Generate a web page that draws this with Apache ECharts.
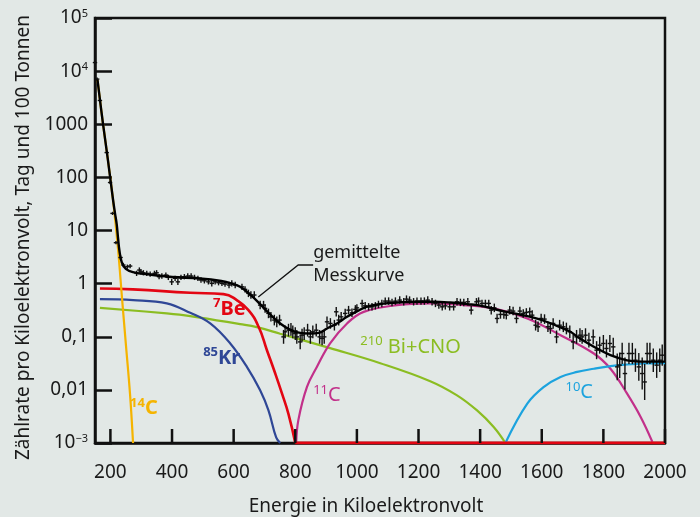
<!DOCTYPE html>
<html>
<head>
<meta charset="utf-8">
<script src="https://cdn.jsdelivr.net/npm/echarts@6/dist/echarts.min.js"></script>
<style>
  html, body { margin: 0; padding: 0; background: #e2e8e6; }
  #chart { width: 700px; height: 517px; }
</style>
</head>
<body>
<div id="chart"></div>
<script>
// x ticks (keV) and y tick texts (by decade, 10^-3 .. 10^5)
const xTicks = [200, 400, 600, 800, 1000, 1200, 1400, 1600, 1800, 2000];
const yTickText = ['10{s|−3}', '0,01', '0,1', '1', '10', '100', '1000', '10{s|4}', '10{s|5}'];

// fitted curve "gemittelte Messkurve"
const fitCurve = [[158,6890],[176,1016],[192,212],[208,40],[215,21],[220.5,13],[225,7],[229,4.3],[237,2.5],[250,1.9],
  [273,1.65],[330,1.47],[400,1.33],[490,1.25],[560,1.12],[594,1.0],[621,0.87],[654,0.62],[686,0.41],[719,0.26],
  [751,0.178],[784,0.135],[816,0.118],[848,0.115],[876,0.118],[903,0.143],[935,0.178],[968,0.237],[1000,0.30],
  [1033,0.37],[1086,0.42],[1141,0.445],[1195,0.455],[1248,0.455],[1303,0.44],[1360,0.41],[1400,0.385],[1477,0.30],
  [1531,0.26],[1585,0.22],[1639,0.17],[1693,0.124],[1715,0.10],[1769,0.065],[1823,0.045],[1877,0.036],[1931,0.034],[2000,0.034]];

// spectral components
const c14 = [[158,6890],[176,1016],[192,212],[208.5,37.6],[224.7,4.5],[237.7,0.535],[250.7,0.0665],[263.7,0.0083],[273.5,0.001]];
const be7 = [[166,0.81],[273,0.78],[459,0.672],[567,0.635],[610,0.49],[648,0.317],[681,0.154],[708,0.0558],[735,0.0203],
  [757,0.0085],[778,0.0035],[800,0.001],[2000,0.001]];
const kr85 = [[166,0.51],[274,0.49],[383,0.425],[459,0.282],[524,0.178],[589,0.0748],[643,0.0271],[686,0.0098],
  [713,0.0041],[738,0.00127],[751,0.001]];
const bi210cno = [[166,0.35],[383,0.275],[459,0.245],[621,0.173],[675,0.152],[751,0.114],[913,0.061],[1076,0.0318],
  [1238,0.0146],[1325,0.0079],[1390,0.0041],[1444,0.002],[1482,0.001]];
const c11 = [[803,0.001],[810,0.0027],[838,0.0114],[870,0.027],[913,0.075],[968,0.178],[1022,0.294],[1130,0.394],
  [1238,0.425],[1346,0.394],[1444,0.341],[1553,0.221],[1661,0.107],[1769,0.0484],[1823,0.025],[1877,0.0085],
  [1921,0.0031],[1959,0.00105]];
const c10 = [[1482,0.001],[1553,0.0055],[1607,0.0114],[1661,0.0175],[1715,0.0218],[1769,0.025],[1823,0.028],
  [1877,0.030],[1931,0.0314],[2000,0.032]];

// measured points: energy, rate, error (half width in decades)
const ptE = [150,157,166,188,199,207,218,233,242,255,264,285,294,299,307,318,329,343,350,358,367,380,388,399,410,419,
  429,440,451,462,473,484,494,505,518,529,540,551,562,572,585,594,605,627,637,648,656,667,686,697,702,713,721,732,740,
  749,762,767,778,786,792,800,805,816,822,829,840,849,857,868,879,887,894,903,914,927,933,941,949,962,973,984,995,1000,
  1017,1027,1038,1049,1060,1070,1081,1092,1103,1114,1125,1139,1152,1161,1171,1184,1195,1208,1219,1230,1244,1255,1266,
  1277,1287,1301,1314,1325,1336,1347,1360,1371,1388,1395,1406,1417,1428,1436,1446,1455,1466,1477,1485,1496,1507,1518,
  1529,1540,1550,1561,1569,1580,1588,1598,1609,1620,1628,1637,1648,1658,1670,1680,1691,1702,1713,1724,1731,1742,1753,
  1767,1778,1788,1800,1810,1821,1832,1845,1853,1861,1870,1883,1894,1904,1915,1926,1934,1942,1951,1962,1973,1983,1991];
const ptV = [14500,7080,2800,293,80,21,5.9,3.1,2.24,2.08,2.14,1.56,1.80,1.67,1.60,1.56,1.51,1.56,1.60,1.35,1.39,1.45,
  1.31,1.08,1.26,1.08,1.31,1.35,1.39,1.39,1.31,1.26,1.17,1.13,1.08,1.01,1.08,1.04,1.01,0.98,0.94,1.01,0.94,0.87,0.78,
  0.655,0.61,0.61,0.394,0.394,0.342,0.275,0.237,0.206,0.191,0.206,0.0995,0.124,0.133,0.137,0.124,0.115,0.0995,0.080,
  0.107,0.115,0.133,0.0995,0.124,0.133,0.0995,0.093,0.0995,0.191,0.178,0.165,0.295,0.206,0.237,0.275,0.317,0.282,0.327,
  0.35,0.424,0.382,0.366,0.366,0.382,0.406,0.424,0.469,0.469,0.443,0.469,0.49,0.455,0.511,0.49,0.455,0.469,0.469,0.469,
  0.49,0.455,0.424,0.394,0.366,0.382,0.366,0.366,0.455,0.443,0.443,0.455,0.317,0.455,0.469,0.424,0.424,0.424,0.317,
  0.35,0.221,0.263,0.263,0.255,0.317,0.304,0.221,0.304,0.275,0.287,0.295,0.255,0.165,0.154,0.221,0.215,0.154,0.143,
  0.178,0.0995,0.165,0.154,0.143,0.124,0.080,0.0995,0.107,0.0995,0.107,0.0863,0.0995,0.0559,0.0694,0.0747,0.0602,
  0.0747,0.0645,0.0271,0.0292,0.0484,0.0203,0.0484,0.0484,0.0362,0.0271,0.0203,0.0141,0.0484,0.0484,0.0362,0.0292,
  0.0362,0.045];
const ptErr = [0.03,0.03,0.03,0.03,0.03,0.03,0.03,0.04,0.04,0.04,0.04,0.05,0.05,0.05,0.05,0.05,0.05,0.05,0.05,0.05,
  0.05,0.05,0.05,0.06,0.05,0.06,0.05,0.05,0.05,0.05,0.05,0.05,0.05,0.05,0.05,0.06,0.05,0.05,0.05,0.05,0.06,0.06,0.06,
  0.06,0.06,0.07,0.07,0.07,0.08,0.08,0.08,0.09,0.09,0.1,0.1,0.1,0.13,0.12,0.12,0.12,0.12,0.12,0.13,0.14,0.12,0.12,0.12,
  0.13,0.12,0.12,0.13,0.13,0.13,0.1,0.1,0.1,0.09,0.1,0.09,0.09,0.08,0.08,0.08,0.07,0.07,0.07,0.07,0.07,0.07,0.07,0.07,
  0.07,0.07,0.07,0.07,0.07,0.07,0.07,0.07,0.07,0.07,0.07,0.07,0.07,0.07,0.07,0.07,0.07,0.07,0.07,0.07,0.07,0.07,0.07,
  0.07,0.08,0.07,0.07,0.07,0.07,0.07,0.08,0.08,0.09,0.08,0.08,0.08,0.08,0.08,0.09,0.08,0.08,0.08,0.08,0.09,0.1,0.1,
  0.09,0.09,0.1,0.1,0.1,0.12,0.1,0.1,0.11,0.12,0.14,0.13,0.13,0.13,0.13,0.14,0.14,0.17,0.16,0.16,0.17,0.16,0.17,0.25,
  0.24,0.2,0.3,0.2,0.2,0.22,0.26,0.3,0.34,0.2,0.2,0.22,0.24,0.22,0.2];

// annotations: text, energy, rate (left / middle anchor), colour
const labels = [
  { text: '{s|7}{m|Be}', x: 533, y: 0.331, color: '#e30613', weight: 'bold' },
  { text: '{s|85}{m|Kr}', x: 501, y: 0.0395, color: '#2f4796', weight: 'bold' },
  { text: '{s|14}{m|C}', x: 264, y: 0.0045, color: '#f5b400', weight: 'bold' },
  { text: '{s|11}{m|C}', x: 858, y: 0.0079, color: '#c2308a', weight: 'normal' },
  { text: '{s|210}{m| Bi+CNO}', x: 1011, y: 0.0637, color: '#8bbd22', weight: 'normal' },
  { text: '{s|10}{m|C}', x: 1677, y: 0.009, color: '#1ca3de', weight: 'normal' }
];
const fitLabel = { text: 'gemittelte\nMesskurve', x: 858, y: 3.93 };
const fitLeader = [[858, 2.24], [809.5, 2.24], [680, 0.558]];

const FONT = 'Noto Sans';
const INK = '#1a1a1a';
const points = ptE.map((e, i) => [e, ptV[i], ptV[i] * Math.pow(10, -ptErr[i]), ptV[i] * Math.pow(10, ptErr[i])]);

const chart = echarts.init(document.getElementById('chart'));

const curve = (data, color, z, width, smooth) => ({
  type: 'line', data: data, smooth: smooth === undefined ? 0.4 : smooth, showSymbol: false, z: z,
  lineStyle: { color: color, width: width || 2.2 }, silent: true
});

chart.setOption({
  backgroundColor: '#e2e8e6',
  animation: false,
  textStyle: { fontFamily: FONT, color: INK },
  grid: {
    left: 95, right: 35, top: 18, bottom: 74, outerBoundsMode: 'none', containLabel: false,
    show: true, borderColor: '#111', borderWidth: 2.5, backgroundColor: 'transparent'
  },
  xAxis: {
    type: 'value', min: 150, max: 2000,
    name: 'Energie in Kiloelektronvolt', nameLocation: 'middle', nameGap: 54,
    nameTextStyle: { fontSize: 19, color: INK, padding: [0, 28, 0, 0] },
    axisLine: { show: true, lineStyle: { color: '#111', width: 2.5 } },
    axisTick: { show: false },
    axisLabel: { customValues: xTicks, margin: 20, fontSize: 19, color: INK, formatter: v => String(v) },
    splitLine: { show: false }
  },
  yAxis: {
    type: 'log', logBase: 10, min: 0.001, max: 100000, splitNumber: 8,
    name: 'Zählrate pro Kiloelektronvolt, Tag und 100 Tonnen', nameLocation: 'middle', nameGap: 62,
    nameTextStyle: { fontSize: 19, color: INK, padding: [0, 14, 0, 0] },
    axisLine: { show: true, lineStyle: { color: '#111', width: 2.5 } },
    axisTick: { show: true, inside: true, length: 17, lineStyle: { color: '#111', width: 2.5 } },
    axisLabel: {
      margin: 7, fontSize: 19, color: INK,
      formatter: v => yTickText[Math.round(Math.log10(v)) + 3],
      rich: { s: { fontSize: 11, verticalAlign: 'top', lineHeight: 12, color: INK } }
    },
    splitLine: { show: false }
  },
  series: [
    curve(bi210cno, '#8bbd22', 2),
    curve(kr85, '#2f4796', 2),
    curve(c11, '#c2308a', 2),
    curve(c10, '#1ca3de', 2),
    curve(be7.filter(p => p[0] <= 800), '#e30613', 3, 2.6, 0.5),
    curve(be7.filter(p => p[0] >= 800), '#e30613', 3, 3, false),
    curve(c14, '#f5b400', 3),
    {
      type: 'custom', data: points, z: 4, silent: true,
      encode: { x: 0, y: [1, 2, 3] },
      renderItem: (params, api) => {
        const e = api.value(0);
        const c = api.coord([e, api.value(1)]);
        const lo = api.coord([e, api.value(2)]);
        const hi = api.coord([e, api.value(3)]);
        const st = { stroke: '#111', lineWidth: 1.4 };
        return {
          type: 'group', children: [
            { type: 'line', shape: { x1: c[0], y1: lo[1], x2: c[0], y2: hi[1] }, style: st },
            { type: 'line', shape: { x1: c[0] - 2.2, y1: c[1], x2: c[0] + 2.2, y2: c[1] }, style: st }
          ]
        };
      }
    },
    curve(fitCurve, '#000', 5, 2.4)
  ]
});

// x ticks (inside) and annotations placed via the axes
const px = p => chart.convertToPixel({ gridIndex: 0 }, p);
const graphics = xTicks.map(v => {
  const p = px([v, 0.001]);
  return { type: 'line', z: 9, shape: { x1: p[0], y1: p[1], x2: p[0], y2: p[1] - 14 }, style: { stroke: '#111', lineWidth: 2.5 } };
});
labels.forEach(l => {
  const p = px([l.x, l.y]);
  graphics.push({
    type: 'text', x: p[0], y: p[1], z: 10,
    style: {
      text: l.text, fill: l.color, verticalAlign: 'middle', align: 'left',
      rich: {
        s: { fontSize: 13, fontFamily: FONT, fill: l.color, verticalAlign: 'top', lineHeight: 14, fontWeight: l.weight },
        m: { fontSize: 20, fontFamily: FONT, fill: l.color, lineHeight: 24, fontWeight: l.weight }
      }
    }
  });
});
const fp = px([fitLabel.x, fitLabel.y]);
graphics.push({
  type: 'text', x: fp[0], y: fp[1] - 11, z: 10,
  style: { text: fitLabel.text, fill: INK, font: '18px "Noto Sans"', lineHeight: 23, verticalAlign: 'top', align: 'left' }
});
graphics.push({
  type: 'polyline', z: 10,
  shape: { points: fitLeader.map(px) },
  style: { stroke: '#111', lineWidth: 1.3, fill: null }
});
chart.setOption({ graphic: graphics });
</script>
</body>
</html>
